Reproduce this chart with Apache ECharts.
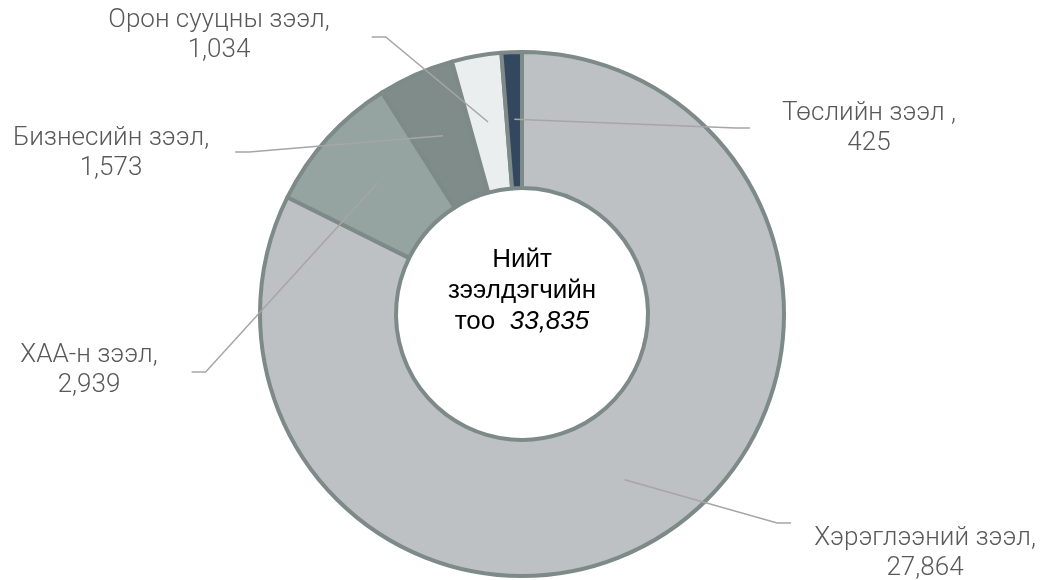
<!DOCTYPE html>
<html>
<head>
<meta charset="utf-8">
<script src="https://cdn.jsdelivr.net/npm/echarts@6/dist/echarts.min.js"></script>
<style>
  html, body { margin: 0; padding: 0; background: #ffffff; }
  #chart { width: 1050px; height: 580px; }
</style>
</head>
<body>
<div id="chart"></div>
<script>
// ---- data ----
const categories = ["Хэрэглээний зээл", "ХАА-н зээл", "Бизнесийн зээл", "Орон сууцны зээл", "Төслийн зээл "];
const values = [27864, 2939, 1573, 1034, 425];
const colors = ["#bdc1c4", "#95a3a1", "#7f8c8a", "#eaeeef", "#33475e"];
const centerTitle = ["Нийт", "зээлдэгчийн", "тоо"];

// ---- layout (label placement, not data) ----
// [centerX, centerY, side(-1 line comes from left, +1 from right), lineEndDy, gap]
const labelPlacement = [
  [925, 553, -1, -30, 23],
  [89, 370, 1, 2, 34],
  [111, 153, 1, -1, 26],
  [219, 35, 1, 2, 42],
  [869, 128, -1, 0, 32]
];

const fmt = v => v.toLocaleString('en-US');
const total = values.reduce((a, b) => a + b, 0);
const CX = 522, CY = 314;

const pieData = categories.map((c, i) => ({ name: c, value: values[i], itemStyle: { color: colors[i] } }));
const ghostData = categories.map((c, i) => ({ name: c, value: values[i] }));

const chart = echarts.init(document.getElementById('chart'), null, { renderer: 'canvas' });
chart.setOption({
  animation: false,
  backgroundColor: '#ffffff',
  graphic: [{
    type: 'text',
    x: CX,
    y: CY - 23,
    z: 100,
    style: {
      text: '{a|' + centerTitle[0] + '}\n{a|' + centerTitle[1] + '}\n{a|' + centerTitle[2] + '  }{b|' + fmt(total) + '}',
      align: 'center',
      verticalAlign: 'middle',
      rich: {
        a: { fontFamily: 'Liberation Sans, Arial, sans-serif', fontSize: 26, lineHeight: 31, color: '#000000' },
        b: { fontFamily: 'Liberation Sans, Arial, sans-serif', fontSize: 26, lineHeight: 31, color: '#000000', fontStyle: 'italic' }
      }
    }
  }],
  series: [
    {
      type: 'pie',
      center: [CX, CY],
      radius: [126, 262],
      startAngle: 90,
      clockwise: true,
      silent: true,
      label: { show: false },
      labelLine: { show: false },
      itemStyle: { borderColor: '#7d8a88', borderWidth: 4 },
      data: pieData,
      z: 2
    },
    {
      type: 'pie',
      center: [CX, CY],
      radius: [0, 195],
      startAngle: 90,
      clockwise: true,
      silent: true,
      avoidLabelOverlap: false,
      itemStyle: { color: 'rgba(0,0,0,0)' },
      label: {
        show: true,
        position: 'outside',
        formatter: p => p.name + ',\n' + fmt(p.value),
        fontFamily: 'Roboto, sans-serif',
        fontWeight: 300,
        fontSize: 26,
        lineHeight: 30,
        color: '#595959',
        align: 'center'
      },
      labelLine: {
        show: true,
        length: 20,
        length2: 15,
        lineStyle: { color: '#a6a6a6', width: 1.5 }
      },
      labelLayout: function (p) {
        const pl = labelPlacement[p.dataIndex];
        const w = p.labelRect.width;
        const ex = pl[0] + pl[2] * (w / 2 + pl[4]);
        const ey = pl[1] + pl[3];
        const start = (p.labelLinePoints && p.labelLinePoints[0]) || [ex, ey];
        return {
          x: pl[0],
          y: pl[1],
          align: 'center',
          verticalAlign: 'middle',
          labelLinePoints: [start, [ex + pl[2] * 14, ey], [ex, ey]]
        };
      },
      data: ghostData,
      z: 3
    }
  ]
});
</script>
</body>
</html>
